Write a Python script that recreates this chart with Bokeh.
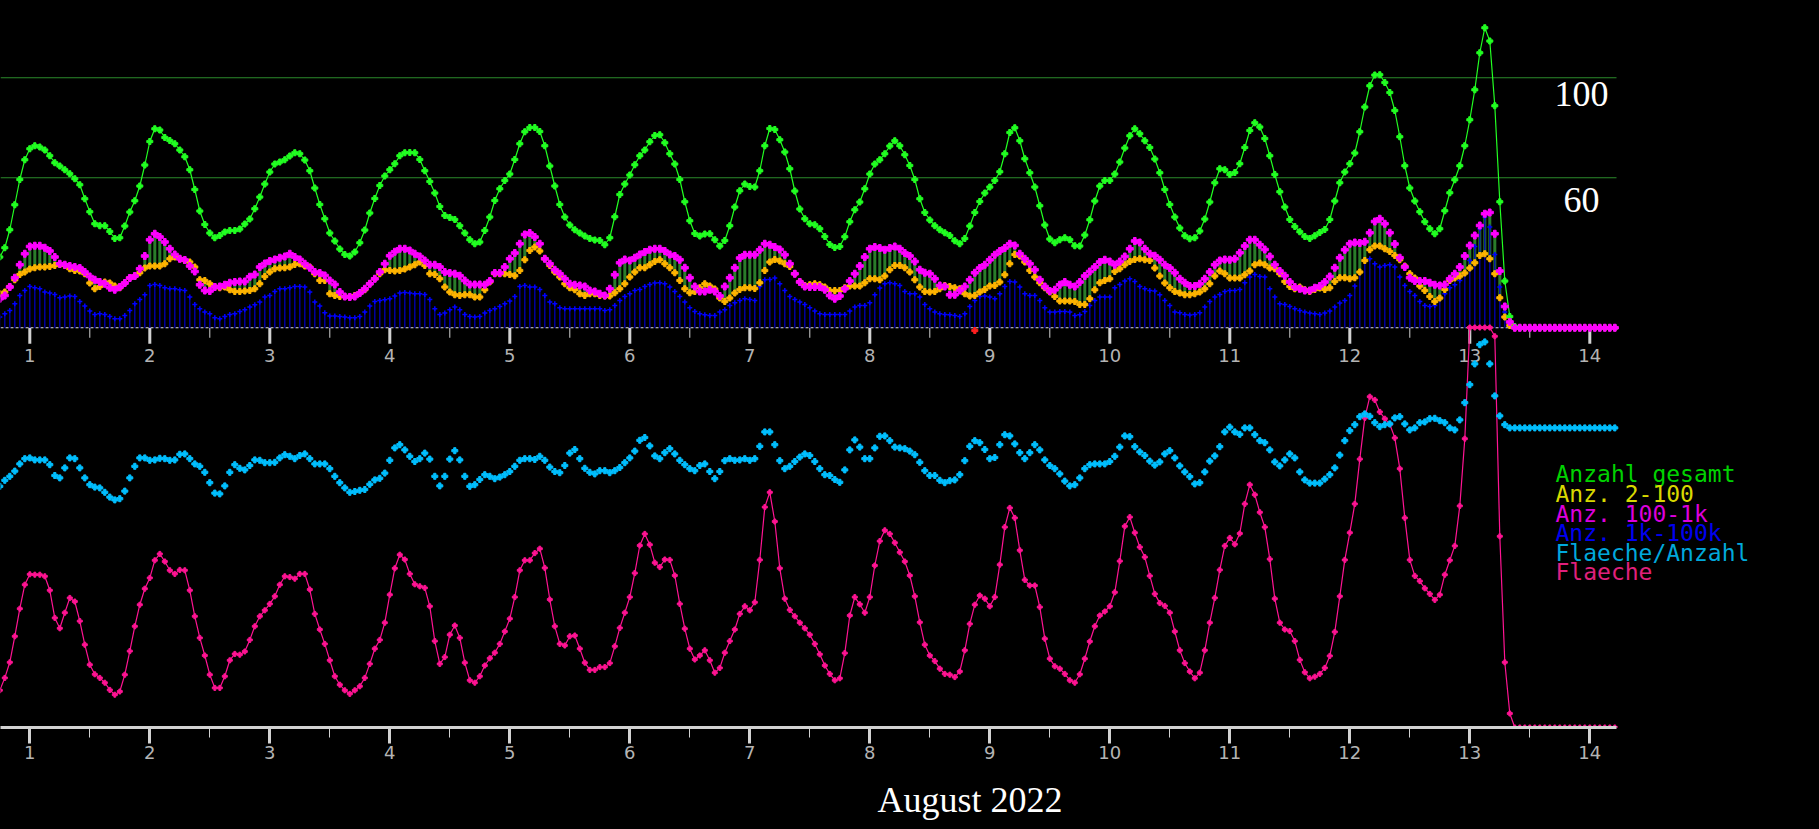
import pandas as pd
from bokeh.plotting import figure
from bokeh.models import (Range1d, FixedTicker, Label, Title, ColumnDataSource,
                          GlobalInlineStyleSheet)
from bokeh.core.properties import value
from bokeh.embed import file_html
from bokeh.resources import INLINE

# ---------------- data (hourly, starting 31 July 2022 18:00) ----------------
start_time = "2022-07-31 18:00"
month_origin = "2022-07-31"          # so that 1 Aug 00:00 -> 1.0

anzahl_gesamt = [
    28.3, 32.0, 39.2, 49.2, 59.3, 67.2, 71.6, 72.8, 72.3, 71.1,
    68.8, 66.0, 64.7, 63.2, 61.6, 59.6, 57.2, 51.6, 46.4, 41.6,
    40.8, 40.8, 38.5, 35.7, 36.0, 40.7, 46.3, 50.8, 56.7, 65.1,
    74.5, 79.6, 79.1, 76.1, 74.9, 73.6, 71.1, 68.4, 63.2, 55.3,
    46.7, 41.3, 37.9, 36.0, 36.9, 38.3, 38.9, 38.9, 39.5, 41.5,
    43.5, 47.6, 52.3, 57.5, 62.3, 65.5, 66.3, 67.2, 68.7, 70.0,
    69.6, 67.1, 62.8, 55.9, 49.3, 43.6, 37.9, 34.7, 31.5, 29.3,
    28.7, 30.3, 34.0, 39.1, 45.9, 51.7, 56.9, 60.7, 63.2, 65.6,
    68.8, 70.0, 70.1, 70.0, 67.3, 62.8, 58.5, 53.9, 48.5, 44.9,
    44.1, 43.3, 40.8, 37.9, 35.2, 33.6, 34.3, 38.9, 44.3, 50.9,
    55.6, 58.9, 61.5, 67.3, 73.6, 78.4, 80.1, 80.1, 78.5, 72.8,
    64.7, 56.7, 49.3, 44.3, 41.1, 39.2, 37.9, 36.7, 35.7, 35.1,
    34.9, 33.2, 36.0, 44.4, 53.3, 57.5, 61.1, 65.2, 68.8, 71.1,
    74.4, 76.9, 77.2, 74.0, 69.6, 65.5, 59.3, 50.4, 42.8, 37.7,
    36.7, 37.5, 37.6, 35.2, 32.7, 34.9, 40.8, 48.3, 54.8, 57.5,
    56.5, 56.3, 62.8, 72.8, 79.7, 79.3, 75.2, 70.3, 63.6, 54.7,
    47.5, 43.6, 41.6, 41.2, 39.6, 36.5, 33.3, 32.1, 32.5, 36.4,
    42.4, 47.2, 50.3, 55.6, 61.5, 65.5, 67.2, 69.6, 72.7, 74.8,
    72.8, 69.2, 64.9, 59.3, 51.6, 46.1, 43.1, 40.8, 39.2, 38.0,
    36.9, 34.8, 33.6, 35.7, 40.7, 46.1, 50.5, 53.9, 56.3, 58.9,
    62.4, 69.6, 78.1, 80.0, 74.8, 67.6, 62.0, 56.3, 48.8, 41.1,
    35.5, 34.0, 35.2, 36.0, 35.2, 32.8, 32.7, 37.1, 43.2, 50.7,
    56.7, 58.9, 58.9, 61.5, 66.3, 71.9, 76.8, 79.6, 77.6, 74.8,
    72.1, 67.5, 62.0, 55.3, 49.3, 44.3, 39.9, 36.8, 35.6, 36.0,
    38.7, 43.5, 50.3, 58.0, 63.6, 63.2, 61.3, 62.1, 65.6, 72.1,
    78.9, 82.0, 80.3, 75.7, 68.8, 61.3, 54.4, 48.3, 43.3, 40.5,
    38.4, 36.5, 35.7, 36.8, 38.1, 39.3, 43.3, 50.7, 58.0, 62.3,
    65.6, 69.9, 78.4, 88.3, 96.8, 101.1, 101.2, 98.1, 94.1, 86.9,
    76.4, 64.8, 55.9, 50.7, 46.4, 42.4, 39.6, 37.6, 39.6, 46.8,
    54.0, 59.2, 64.8, 72.8, 83.2, 95.2, 110.0, 120.0, 114.7, 88.8,
    50.4, 18.7, 4.5, 0.5, 0, 0, 0, 0, 0, 0,
    0, 0, 0, 0, 0, 0, 0, 0, 0, 0,
    0, 0, 0, 0,
]

anz_2_100 = [
    13.6, 14.3, 16.5, 19.2, 21.3, 22.3, 23.5, 24.0, 24.3, 24.3,
    24.5, 24.9, 25.3, 24.9, 23.6, 22.9, 22.7, 21.6, 17.9, 15.6,
    16.5, 18.3, 17.9, 16.7, 16.0, 17.9, 19.9, 20.7, 22.0, 23.9,
    24.7, 24.7, 24.7, 25.6, 27.6, 28.3, 27.6, 26.9, 26.3, 24.3,
    19.2, 18.9, 17.6, 16.5, 16.0, 16.3, 15.2, 14.5, 14.5, 14.7,
    14.9, 15.6, 17.6, 20.5, 22.3, 23.6, 23.9, 24.0, 24.3, 25.3,
    25.6, 24.7, 24.3, 21.6, 18.9, 18.9, 13.6, 12.9, 12.5, 12.5,
    12.3, 12.9, 13.9, 15.2, 17.6, 19.6, 21.6, 23.2, 22.9, 22.7,
    22.9, 23.5, 24.3, 25.2, 26.3, 24.9, 21.6, 21.3, 19.6, 16.3,
    14.3, 13.2, 12.9, 13.2, 13.2, 12.3, 12.3, 15.2, 18.3, 21.6,
    21.6, 21.6, 21.3, 20.8, 22.9, 27.2, 30.9, 32.3, 30.7, 27.6,
    24.9, 22.3, 20.3, 17.6, 16.0, 15.2, 13.6, 12.9, 13.6, 13.6,
    12.9, 12.7, 12.7, 14.0, 15.6, 17.6, 20.3, 22.3, 24.0, 24.0,
    25.2, 26.5, 27.2, 25.6, 24.0, 22.0, 18.9, 15.6, 14.0, 14.5,
    16.0, 17.6, 16.7, 15.5, 11.9, 10.5, 11.9, 13.9, 15.3, 16.0,
    16.0, 15.7, 18.0, 22.9, 26.3, 27.3, 26.7, 25.6, 24.5, 21.6,
    18.5, 16.9, 17.2, 17.6, 17.2, 16.3, 14.9, 14.9, 14.9, 16.0,
    16.7, 16.7, 16.7, 18.0, 19.6, 19.6, 19.2, 20.7, 23.2, 24.9,
    24.9, 24.0, 22.3, 19.2, 16.3, 14.5, 14.3, 14.5, 15.6, 16.9,
    16.5, 16.0, 15.6, 13.6, 12.7, 12.9, 14.3, 15.3, 16.7, 16.9,
    18.3, 21.2, 25.6, 29.3, 28.7, 26.3, 22.9, 20.3, 18.0, 16.0,
    14.3, 12.5, 10.7, 10.7, 10.7, 10.5, 9.3, 9.3, 11.6, 15.2,
    18.0, 18.9, 19.6, 22.5, 23.6, 25.2, 26.5, 27.3, 27.6, 27.2,
    26.9, 23.9, 20.7, 17.9, 16.0, 14.5, 13.9, 13.2, 13.2, 13.6,
    14.3, 15.6, 17.6, 20.7, 22.7, 21.6, 19.9, 19.9, 19.9, 21.2,
    22.7, 25.2, 25.9, 25.2, 23.9, 23.6, 21.6, 18.5, 16.5, 15.6,
    16.3, 15.2, 14.5, 15.3, 15.9, 15.3, 16.0, 18.5, 20.0, 20.0,
    19.6, 20.0, 22.3, 26.9, 31.2, 32.7, 32.7, 31.6, 30.5, 28.9,
    27.2, 24.7, 21.6, 19.9, 16.7, 14.9, 12.5, 10.5, 11.9, 15.3,
    18.9, 19.9, 20.7, 21.9, 23.9, 26.0, 28.9, 29.6, 27.6, 21.6,
    12.0, 4.3, 0.9, 0, 0, 0, 0, 0, 0, 0,
    0, 0, 0, 0, 0, 0, 0, 0, 0, 0,
    0, 0, 0, 0,
]

anz_100_1k = [
    11.6, 12.9, 16.3, 20.0, 25.2, 29.6, 32.5, 32.8, 32.8, 32.0,
    30.7, 28.3, 25.6, 25.2, 24.7, 24.3, 23.9, 22.3, 20.5, 19.2,
    18.3, 17.6, 16.0, 15.2, 16.3, 17.9, 19.9, 20.7, 23.6, 28.7,
    35.2, 37.6, 36.3, 34.3, 31.6, 29.3, 27.6, 27.1, 24.7, 22.5,
    17.2, 14.9, 14.7, 16.3, 16.5, 17.2, 18.0, 18.3, 18.5, 18.5,
    20.4, 21.3, 24.3, 25.7, 26.7, 27.3, 28.0, 28.5, 29.6, 28.3,
    27.3, 25.6, 24.0, 22.3, 21.9, 20.9, 18.9, 17.3, 14.3, 12.5,
    12.3, 12.5, 13.9, 15.6, 17.6, 19.6, 22.3, 25.6, 28.8, 30.4,
    31.6, 31.6, 30.9, 29.6, 28.5, 26.9, 25.2, 25.2, 24.3, 22.3,
    21.9, 21.6, 20.8, 18.9, 17.3, 17.3, 17.3, 17.2, 18.7, 21.9,
    21.9, 24.3, 27.6, 29.9, 33.6, 37.3, 37.9, 36.3, 33.6, 27.6,
    25.6, 23.2, 21.6, 19.6, 17.6, 17.2, 16.9, 16.5, 14.9, 14.5,
    13.6, 12.9, 15.6, 21.2, 26.0, 27.3, 26.9, 28.0, 29.3, 30.3,
    31.2, 31.6, 31.6, 30.7, 29.3, 28.7, 27.2, 24.0, 20.0, 16.5,
    14.5, 14.5, 15.2, 14.5, 12.7, 16.5, 20.0, 24.0, 27.9, 29.2,
    29.2, 29.2, 31.2, 33.6, 33.2, 32.3, 31.3, 29.2, 25.6, 21.6,
    18.3, 16.5, 16.3, 16.3, 16.3, 15.2, 12.9, 11.6, 12.7, 15.6,
    18.7, 21.6, 24.7, 28.3, 31.6, 32.3, 31.9, 31.2, 31.9, 32.5,
    31.6, 29.9, 28.7, 26.5, 23.2, 22.0, 21.6, 19.6, 16.9, 16.5,
    13.2, 13.2, 14.9, 16.5, 19.2, 22.0, 23.9, 25.2, 27.2, 29.2,
    30.7, 31.9, 33.6, 32.9, 29.6, 27.6, 25.6, 23.2, 19.2, 16.5,
    14.7, 15.2, 17.2, 18.3, 17.2, 16.5, 18.3, 20.7, 22.5, 24.3,
    26.3, 27.2, 26.5, 25.2, 26.5, 28.5, 31.6, 34.7, 34.1, 31.6,
    29.6, 28.8, 27.2, 25.2, 23.9, 22.0, 19.6, 18.0, 16.7, 16.7,
    17.6, 19.6, 22.3, 25.2, 26.9, 27.3, 27.2, 27.6, 30.0, 32.7,
    35.2, 35.2, 33.2, 31.3, 28.5, 25.2, 22.7, 20.8, 18.3, 16.3,
    15.6, 14.9, 14.9, 16.0, 16.7, 18.3, 20.5, 24.0, 28.0, 31.2,
    33.6, 34.1, 33.9, 34.4, 38.0, 42.5, 43.6, 41.6, 38.0, 33.5,
    28.0, 24.3, 20.0, 18.7, 18.7, 18.7, 18.0, 17.2, 16.9, 17.3,
    19.6, 21.6, 24.3, 28.7, 32.9, 36.9, 40.9, 45.6, 46.1, 37.6,
    22.7, 8.5, 2.3, 0, 0, 0, 0, 0, 0, 0,
    0, 0, 0, 0, 0, 0, 0, 0, 0, 0,
    0, 0, 0, 0,
]

anz_1k_100k = [
    4.3, 5.6, 6.9, 9.6, 12.9, 14.9, 16.5, 16.0, 15.6, 14.3,
    13.9, 13.3, 12.0, 12.3, 12.7, 12.5, 10.5, 8.7, 6.7, 5.3,
    5.6, 5.3, 4.5, 3.6, 3.6, 4.9, 6.9, 9.6, 11.3, 13.2,
    16.9, 17.3, 16.9, 16.0, 15.6, 15.6, 15.2, 14.9, 12.3, 9.3,
    7.6, 6.3, 5.6, 4.0, 3.6, 4.5, 5.3, 5.6, 6.5, 7.2,
    8.3, 9.2, 10.3, 12.3, 12.9, 14.5, 15.6, 15.6, 16.0, 16.5,
    16.5, 16.3, 14.3, 10.3, 8.7, 6.0, 4.7, 4.7, 4.5, 4.3,
    4.0, 4.0, 4.5, 6.3, 8.7, 10.5, 10.9, 11.2, 11.6, 12.7,
    13.9, 14.1, 13.9, 13.6, 13.6, 13.3, 11.3, 7.6, 5.3, 5.9,
    7.2, 8.3, 7.2, 5.3, 4.5, 4.3, 4.5, 5.9, 6.9, 7.6,
    8.5, 9.6, 10.7, 12.5, 16.5, 16.9, 16.3, 16.3, 15.3, 12.9,
    10.3, 9.6, 8.0, 7.6, 7.6, 7.6, 7.6, 7.6, 7.6, 7.6,
    7.6, 6.9, 7.2, 8.9, 10.9, 12.5, 13.6, 14.9, 15.3, 16.5,
    17.3, 17.9, 18.0, 17.6, 16.3, 14.5, 12.5, 10.3, 8.0, 6.5,
    5.6, 5.2, 4.9, 4.9, 6.3, 7.2, 8.9, 10.0, 10.9, 11.6,
    11.3, 10.9, 16.5, 19.2, 19.3, 19.9, 17.6, 14.9, 12.5, 11.3,
    10.3, 9.3, 8.0, 6.7, 5.6, 5.3, 5.3, 5.3, 5.3, 5.3,
    6.7, 8.3, 8.9, 8.9, 10.0, 13.2, 15.9, 17.6, 18.0, 17.6,
    16.9, 14.5, 13.6, 13.6, 12.3, 9.3, 7.6, 6.3, 5.6, 5.3,
    5.2, 4.9, 4.5, 5.6, 8.5, 10.9, 12.5, 12.7, 12.3, 11.6,
    13.6, 16.5, 18.5, 18.3, 16.3, 13.6, 12.9, 12.9, 10.9, 8.0,
    6.3, 6.3, 6.5, 6.5, 6.3, 4.9, 5.2, 6.5, 8.9, 10.9,
    12.3, 12.3, 12.3, 16.0, 17.3, 18.7, 19.6, 18.5, 16.5, 15.6,
    14.9, 14.7, 13.2, 10.9, 8.9, 6.3, 6.0, 5.3, 5.1, 5.3,
    6.0, 8.3, 10.5, 12.3, 13.3, 14.5, 14.9, 14.9, 15.3, 18.0,
    20.3, 21.3, 20.5, 20.3, 15.6, 12.3, 9.6, 9.3, 8.5, 7.6,
    6.9, 6.3, 5.9, 5.6, 5.3, 5.9, 6.7, 8.3, 9.9, 10.9,
    12.9, 16.7, 22.3, 26.9, 27.6, 25.6, 24.3, 24.9, 25.2, 24.3,
    20.3, 16.9, 14.5, 12.9, 10.5, 8.9, 8.5, 8.9, 12.3, 13.6,
    16.0, 17.2, 18.9, 21.6, 26.9, 32.5, 39.6, 44.3, 40.3, 29.3,
    16.3, 6.3, 1.6, 0, 0, 0, 0, 0, 0, 0,
    0, 0, 0, 0, 0, 0, 0, 0, 0, 0,
    0, 0, 0, 0,
]

flaeche_pro_anzahl = [
    60.3, 61.8, 62.8, 64.1, 65.9, 67.2, 67.4, 66.9, 66.9, 66.9,
    65.7, 63.0, 62.4, 64.9, 67.4, 67.2, 64.9, 62.4, 60.7, 60.1,
    59.9, 58.8, 57.6, 56.9, 57.2, 59.1, 62.4, 65.3, 67.4, 67.4,
    66.8, 66.9, 67.3, 67.2, 66.8, 66.9, 68.3, 68.4, 67.2, 65.9,
    65.3, 63.8, 61.2, 58.6, 58.4, 60.4, 63.8, 65.7, 64.8, 64.4,
    65.5, 66.9, 66.8, 66.2, 66.2, 66.3, 67.4, 68.2, 67.8, 67.2,
    68.0, 68.4, 67.2, 65.9, 65.9, 65.9, 64.7, 62.8, 61.2, 59.9,
    58.8, 59.0, 59.3, 59.5, 60.8, 61.9, 62.3, 63.6, 66.8, 69.9,
    70.7, 69.4, 67.8, 66.5, 67.2, 68.6, 67.1, 62.8, 60.4, 62.8,
    67.1, 69.2, 66.9, 62.8, 60.3, 60.7, 62.0, 63.2, 62.8, 62.2,
    62.6, 63.2, 64.0, 65.3, 66.8, 67.2, 67.2, 67.0, 67.8, 66.8,
    65.1, 64.0, 63.7, 65.5, 68.6, 69.5, 67.2, 64.8, 63.8, 63.4,
    64.2, 64.2, 63.7, 64.2, 65.0, 66.2, 67.4, 69.1, 71.8, 72.5,
    70.4, 67.9, 67.2, 68.7, 69.7, 68.4, 66.8, 65.7, 64.7, 64.2,
    65.5, 65.9, 64.0, 62.2, 64.0, 66.7, 67.2, 66.8, 66.9, 67.2,
    66.8, 67.2, 70.3, 73.9, 73.9, 70.7, 66.7, 64.7, 65.3, 66.5,
    67.6, 68.4, 68.0, 66.5, 64.7, 63.2, 63.0, 62.0, 61.3, 64.4,
    69.4, 71.9, 70.1, 67.2, 67.2, 69.9, 72.8, 72.9, 71.7, 70.1,
    69.9, 69.7, 69.1, 68.2, 66.3, 64.2, 63.0, 63.0, 61.8, 61.2,
    61.7, 61.9, 63.2, 66.7, 70.3, 71.7, 71.2, 69.5, 67.2, 67.5,
    70.7, 73.2, 72.9, 70.9, 68.7, 67.2, 68.7, 70.7, 69.4, 66.9,
    65.5, 64.7, 63.4, 61.6, 60.4, 60.7, 62.4, 64.7, 65.7, 65.9,
    65.9, 65.9, 66.5, 67.8, 70.1, 72.9, 72.7, 70.2, 68.9, 68.0,
    66.6, 65.6, 66.4, 68.4, 69.2, 67.4, 65.4, 63.9, 62.7, 60.9,
    61.2, 63.9, 66.6, 67.9, 70.2, 73.9, 75.1, 73.9, 73.3, 74.9,
    74.9, 73.2, 71.7, 71.2, 69.4, 66.4, 65.4, 66.9, 68.4, 67.4,
    63.9, 61.9, 61.1, 61.1, 61.1, 62.1, 63.2, 64.9, 68.1, 71.7,
    74.2, 75.7, 77.7, 78.4, 77.8, 76.2, 75.2, 75.7, 75.9, 77.4,
    77.7, 75.9, 74.4, 74.9, 76.2, 76.4, 77.2, 77.3, 76.7, 76.2,
    74.9, 74.4, 76.9, 81.2, 85.7, 90.9, 95.7, 96.4, 90.9, 82.9,
    77.9, 75.7, 74.9, 74.9, 74.9, 74.9, 74.9, 74.9, 74.9, 74.9,
    74.9, 74.9, 74.9, 74.9, 74.9, 74.9, 74.9, 74.9, 74.9, 74.9,
    74.9, 74.9, 74.9, 74.9,
]

flaeche = [
    9.3, 12.4, 16.3, 22.8, 29.7, 35.7, 38.3, 38.2, 38.2, 37.8,
    34.3, 27.4, 24.8, 28.7, 32.4, 31.5, 26.6, 20.7, 15.7, 13.3,
    12.4, 11.2, 9.4, 8.2, 9.0, 13.2, 19.1, 25.3, 30.7, 34.7,
    37.4, 41.8, 43.4, 41.5, 39.3, 38.4, 39.4, 39.3, 34.3, 27.8,
    22.4, 18.0, 13.2, 9.9, 9.9, 12.8, 16.8, 18.4, 18.2, 19.0,
    21.9, 25.3, 27.8, 29.3, 30.9, 32.8, 35.7, 37.8, 37.6, 37.2,
    38.4, 38.4, 34.5, 28.4, 24.5, 20.9, 16.8, 12.8, 10.7, 9.3,
    8.4, 9.3, 10.3, 12.4, 15.9, 19.7, 21.9, 26.2, 33.2, 39.8,
    43.2, 42.0, 38.4, 35.8, 35.3, 34.9, 30.3, 21.6, 15.9, 17.6,
    23.2, 25.5, 22.4, 16.2, 11.8, 11.2, 12.8, 15.5, 17.3, 18.7,
    20.9, 24.0, 27.2, 32.6, 39.3, 41.8, 41.8, 43.6, 44.7, 39.9,
    32.0, 25.3, 20.9, 20.5, 22.8, 23.0, 19.7, 16.2, 14.4, 14.4,
    15.1, 15.1, 16.1, 20.3, 24.9, 28.7, 32.6, 38.6, 45.5, 48.4,
    45.7, 41.2, 40.1, 42.0, 41.9, 38.0, 30.9, 24.7, 19.7, 17.0,
    18.0, 19.3, 16.8, 13.7, 14.9, 18.7, 21.6, 24.5, 28.4, 30.3,
    29.3, 31.3, 41.9, 55.1, 58.8, 51.5, 39.8, 32.2, 29.4, 27.8,
    26.2, 24.8, 23.2, 20.9, 18.3, 15.5, 13.4, 11.8, 12.3, 18.6,
    28.0, 32.6, 30.8, 28.7, 32.6, 40.5, 46.6, 49.3, 48.4, 46.2,
    43.8, 41.5, 38.0, 32.8, 26.3, 20.7, 18.0, 16.6, 14.7, 13.4,
    13.2, 12.6, 14.0, 19.3, 25.9, 30.7, 33.0, 32.2, 30.3, 32.6,
    40.7, 50.1, 54.9, 52.4, 44.3, 36.9, 35.5, 35.5, 30.1, 22.2,
    17.2, 15.3, 14.7, 13.4, 11.8, 11.2, 13.3, 17.2, 21.5, 25.3,
    28.0, 29.0, 30.3, 33.8, 41.6, 50.3, 52.6, 48.7, 45.1, 42.6,
    37.9, 33.4, 31.1, 30.4, 28.7, 24.0, 19.3, 16.1, 14.0, 12.3,
    13.7, 19.3, 26.2, 32.4, 39.4, 45.4, 47.4, 45.8, 48.5, 55.9,
    60.7, 58.2, 53.8, 50.1, 42.1, 32.2, 26.2, 24.5, 24.1, 21.6,
    16.9, 13.8, 12.3, 12.7, 13.4, 14.9, 17.9, 23.9, 32.8, 41.9,
    48.7, 55.9, 67.1, 77.4, 82.7, 81.9, 78.9, 77.2, 75.8, 72.4,
    64.7, 52.4, 41.9, 37.9, 36.6, 34.8, 33.4, 31.9, 33.2, 38.2,
    41.8, 45.4, 55.4, 72.2, 100.0, 100.0, 100.0, 100.0, 100.0, 97.8,
    47.8, 16.3, 3.5, 0, 0, 0, 0, 0, 0, 0,
    0, 0, 0, 0, 0, 0, 0, 0, 0, 0,
    0, 0, 0, 0,
]

flag_times = ["2022-08-08 21:00"]
flag_values = [-1.1]

day_ticks = [1, 2, 3, 4, 5, 6, 7, 8, 9, 10, 11, 12, 13, 14]
day_labels = ["1", "2", "3", "4", "5", "6", "7", "8", "9", "10", "11", "12", "13", "14"]
half_day_ticks = [1.5, 2.5, 3.5, 4.5, 5.5, 6.5, 7.5, 8.5, 9.5, 10.5, 11.5, 12.5, 13.5]
count_levels = [100, 60]
count_level_labels = ["100", "60"]
x_title = "August 2022"

legend_texts = ["Anzahl gesamt", "Anz. 2-100", "Anz. 100-1k",
                "Anz. 1k-100k", "Flaeche/Anzahl", "Flaeche"]
legend_colors = ["#00d200", "#d8d800", "#dc00dc", "#0000f0", "#00a8dc", "#e0207c"]

# ---------------- view geometry ----------------
plot_start, plot_end = 0.7558, 14.2225      # visible time span of both panels (days)
view_end = plot_start + 1819 / 120.0        # canvas continues right (legend area)

# ---------------- derived positions ----------------
times = pd.date_range(start_time, periods=len(anzahl_gesamt), freq="h")
day_pos = ((times - pd.Timestamp(month_origin)) / pd.Timedelta(days=1)).to_numpy()
flag_pos = ((pd.to_datetime(flag_times) - pd.Timestamp(month_origin)) / pd.Timedelta(days=1)).to_numpy()

src = ColumnDataSource(dict(
    x=day_pos, g=anzahl_gesamt, y2=anz_2_100, m=anz_100_1k, b=anz_1k_100k,
    r=flaeche_pro_anzahl, f=flaeche))

# ---------------- figure ----------------
p = figure(frame_width=1819, frame_height=727,
           x_range=Range1d(plot_start, view_end), y_range=Range1d(-159.9, 130.9),
           output_backend="svg", toolbar_location=None, y_axis_location=None,
           background_fill_color="black", border_fill_color="black",
           outline_line_color=None,
           min_border_left=0, min_border_right=0, min_border_top=0, min_border_bottom=102)
p.extra_y_ranges = {"area": Range1d(0, 181.75)}
p.xgrid.visible = False
p.ygrid.visible = False
p.stylesheets = [GlobalInlineStyleSheet(
    css="html, body { margin: 0 !important; padding: 0; background: #000; overflow: hidden; }")]

# bottom axis
ax = p.xaxis[0]
ax.bounds = (plot_start, plot_end)
ax.ticker = FixedTicker(ticks=day_ticks, minor_ticks=half_day_ticks)
ax.axis_line_color = "#d2d2d2"
ax.axis_line_width = 3
ax.major_tick_line_color = "#d2d2d2"
ax.major_tick_line_width = 3
ax.major_tick_in = 0
ax.major_tick_out = 16
ax.minor_tick_line_color = "#d2d2d2"
ax.minor_tick_line_width = 1
ax.minor_tick_in = 0
ax.minor_tick_out = 10
ax.major_label_text_color = "#b4b4b4"
ax.major_label_text_font = "DejaVu Sans"
ax.major_label_text_font_size = "18px"
ax.major_label_standoff = 2

# axis title, centred under the plotted time span
p.add_layout(Title(text=x_title, align="left", offset=877, standoff=32,
                   text_font="Liberation Serif", text_font_size="36px",
                   text_font_style="normal", text_color="white"), "below")

# reference lines of the upper panel (only across the plotting span)
n_lv = len(count_levels)
gl = p.segment(x0=[plot_start] * n_lv, x1=[plot_end] * n_lv, y0=count_levels, y1=count_levels,
               line_color="#2b8a2b", line_width=1)
gl.level = "underlay"
bl = p.segment(x0=[plot_start], x1=[plot_end], y0=[0], y1=[0],
               line_color="#d8d8e4", line_width=1, line_dash="3 2")
bl.level = "underlay"

# upper panel time axis (drawn at count = 0)
p.segment(x0=day_ticks, y0=0, x1=day_ticks, y1=-6.4, line_color="#d2d2d2", line_width=3)
p.segment(x0=half_day_ticks, y0=0, x1=half_day_ticks, y1=-4, line_color="#d2d2d2", line_width=1)
p.text(x=day_ticks, y=-10.9, text=day_labels, text_align="center", text_baseline="middle",
       text_font=value("DejaVu Sans"), text_font_size="18px", text_color="#b4b4b4")

# size-class bars and markers
p.segment(x0="x", y0="y2", x1="x", y1="m", source=src, line_color="#2a7d2a", line_width=3)
p.segment(x0="x", y0=0, x1="x", y1="b", source=src, line_color="#0000b8", line_width=1.3)
p.scatter("x", "b", source=src, marker="cross", size=5, line_color="#0000ff", line_width=1.5)
p.scatter("x", "y2", source=src, marker="plus", size=6, color="#ffb400")

# total count
p.line("x", "g", source=src, line_color="#22ff22", line_width=1.2)
p.scatter("x", "g", source=src, marker="plus", size=6, color="#22ff22")

p.scatter("x", "m", source=src, marker="plus", size=7, color="#ff00ff")

# lower panel: area and area per count
p.line("x", "f", source=src, y_range_name="area", line_color="#ff1493", line_width=1.2)
p.scatter("x", "f", source=src, y_range_name="area", marker="plus", size=5, color="#ff1493")
p.scatter("x", "r", source=src, y_range_name="area", marker="plus", size=6, color="#00bfff")

# flagged value
p.scatter(x=flag_pos, y=flag_values, marker="plus", size=6, color="#ff2020")

# level labels
for txt, yv in zip(count_level_labels, [93.4, 51.0]):
    p.add_layout(Label(x=1581, x_units="screen", y=yv, text=txt, text_align="center",
                       text_baseline="alphabetic", text_font="Liberation Serif",
                       text_font_size="36px", text_color="white"))

# legend (coloured texts only)
for i, (txt, col) in enumerate(zip(legend_texts, legend_colors)):
    p.add_layout(Label(x=1555, x_units="screen", y=-58.6 - 7.85 * i, text=txt,
                       text_align="left", text_baseline="alphabetic",
                       text_font="DejaVu Sans Mono", text_font_size="23px",
                       text_color=col))

open("out.html", "w").write(file_html(p, INLINE))
